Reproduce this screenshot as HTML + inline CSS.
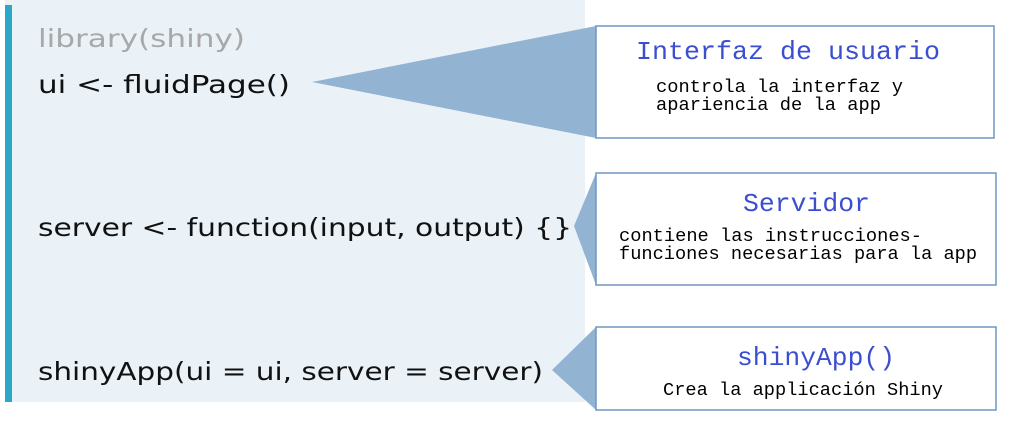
<!DOCTYPE html>
<html><head><meta charset="utf-8"><style>
html,body{margin:0;padding:0;background:#fff;width:1024px;height:427px;overflow:hidden}
</style></head><body>
<svg width="1024" height="427" xmlns="http://www.w3.org/2000/svg">
<rect x="5" y="0" width="580" height="402" fill="#eaf2f8"/>
<rect x="5" y="5" width="7" height="397" fill="#2aa7c9"/>
<g font-family="'DejaVu Sans', sans-serif" font-size="25" fill="#111">
<text x="38" y="47" fill="#a8a8a8" textLength="207" lengthAdjust="spacingAndGlyphs">library(shiny)</text>
<text x="38" y="93" textLength="252" lengthAdjust="spacingAndGlyphs">ui &lt;- fluidPage()</text>
<text x="38" y="236" textLength="534" lengthAdjust="spacingAndGlyphs">server &lt;- function(input, output) {}</text>
<text x="38" y="380" textLength="505" lengthAdjust="spacingAndGlyphs">shinyApp(ui = ui, server = server)</text>
</g>
<g fill="#93b3d3">
<polygon points="312,82 596,26 596,138"/>
<polygon points="574,226 596,173 596,285"/>
<polygon points="552,370 596,327 596,410"/>
</g>
<g fill="#fff" stroke="#6f96c4" stroke-width="1.5">
<rect x="596" y="26" width="398" height="112"/>
<rect x="596" y="173" width="400" height="112"/>
<rect x="596" y="327" width="400" height="83"/>
</g>
<g font-family="'Liberation Mono', monospace" fill="#3b4ed0" font-size="26">
<text x="636" y="59" textLength="304" lengthAdjust="spacingAndGlyphs">Interfaz de usuario</text>
<text x="743" y="211" textLength="127" lengthAdjust="spacingAndGlyphs">Servidor</text>
<text x="737" y="365" textLength="158" lengthAdjust="spacingAndGlyphs">shinyApp()</text>
</g>
<g font-family="'Liberation Mono', monospace" fill="#000" font-size="18">
<text x="656" y="92" textLength="247" lengthAdjust="spacingAndGlyphs">controla la interfaz y</text>
<text x="656" y="110" textLength="225" lengthAdjust="spacingAndGlyphs">apariencia de la app</text>
<text x="619" y="241" textLength="303" lengthAdjust="spacingAndGlyphs">contiene las instrucciones-</text>
<text x="619" y="259" textLength="358" lengthAdjust="spacingAndGlyphs">funciones necesarias para la app</text>
<text x="663" y="395" textLength="280" lengthAdjust="spacingAndGlyphs">Crea la applicación Shiny</text>
</g>
</svg>
</body></html>
